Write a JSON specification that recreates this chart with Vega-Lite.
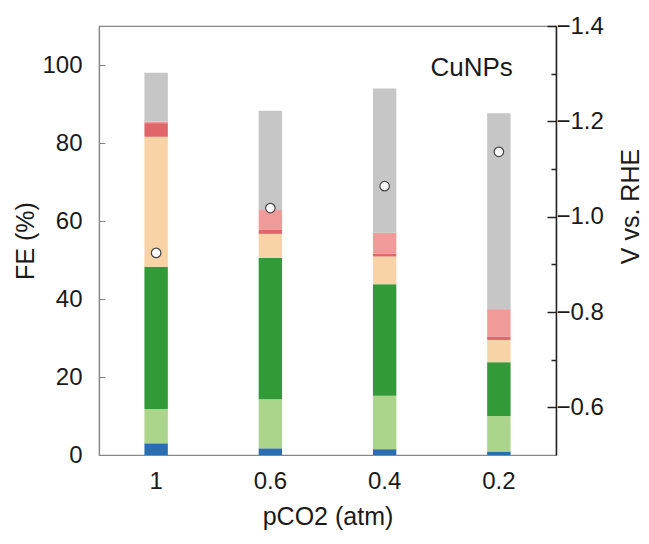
{
  "$schema": "https://vega.github.io/schema/vega-lite/v6.json",
  "width": 457,
  "height": 429,
  "autosize": {"type": "none"},
  "padding": {"left": 99, "top": 26, "right": 93, "bottom": 89},
  "background": "white",
  "config": {
    "font": "Liberation Sans",
    "view": {"stroke": "#888", "strokeWidth": 1.2},
    "axis": {"labelColor": "#1a1a1a", "titleColor": "#1a1a1a", "labelFont": "Liberation Sans", "titleFont": "Liberation Sans", "titleFontWeight": "normal", "grid": false}
  },
  "datasets": {
    "fe": [
      {"p": "1", "product": "CO", "k": 1, "fe": 3.0},
      {"p": "1", "product": "HCOOH", "k": 2, "fe": 8.8},
      {"p": "1", "product": "C2H4", "k": 3, "fe": 36.5},
      {"p": "1", "product": "C2H5OH", "k": 4, "fe": 33.3},
      {"p": "1", "product": "C3H7OH", "k": 5, "fe": 3.5},
      {"p": "1", "product": "CH4", "k": 6, "fe": 0.4},
      {"p": "1", "product": "H2", "k": 7, "fe": 12.5},
      {"p": "0.6", "product": "CO", "k": 1, "fe": 1.7},
      {"p": "0.6", "product": "HCOOH", "k": 2, "fe": 12.6},
      {"p": "0.6", "product": "C2H4", "k": 3, "fe": 36.3},
      {"p": "0.6", "product": "C2H5OH", "k": 4, "fe": 6.1},
      {"p": "0.6", "product": "C3H7OH", "k": 5, "fe": 1.0},
      {"p": "0.6", "product": "CH4", "k": 6, "fe": 5.1},
      {"p": "0.6", "product": "H2", "k": 7, "fe": 25.5},
      {"p": "0.4", "product": "CO", "k": 1, "fe": 1.5},
      {"p": "0.4", "product": "HCOOH", "k": 2, "fe": 13.7},
      {"p": "0.4", "product": "C2H4", "k": 3, "fe": 28.6},
      {"p": "0.4", "product": "C2H5OH", "k": 4, "fe": 7.1},
      {"p": "0.4", "product": "C3H7OH", "k": 5, "fe": 0.7},
      {"p": "0.4", "product": "CH4", "k": 6, "fe": 5.4},
      {"p": "0.4", "product": "H2", "k": 7, "fe": 37.0},
      {"p": "0.2", "product": "CO", "k": 1, "fe": 0.9},
      {"p": "0.2", "product": "HCOOH", "k": 2, "fe": 9.1},
      {"p": "0.2", "product": "C2H4", "k": 3, "fe": 13.8},
      {"p": "0.2", "product": "C2H5OH", "k": 4, "fe": 5.7},
      {"p": "0.2", "product": "C3H7OH", "k": 5, "fe": 0.9},
      {"p": "0.2", "product": "CH4", "k": 6, "fe": 7.0},
      {"p": "0.2", "product": "H2", "k": 7, "fe": 50.2}
    ],
    "volt": [
      {"p": "1", "v": -0.924},
      {"p": "0.6", "v": -1.018},
      {"p": "0.4", "v": -1.064},
      {"p": "0.2", "v": -1.136}
    ],
    "label": [
      {"p": "0.2", "y": 99.3, "text": "CuNPs"}
    ]
  },
  "encoding": {
    "x": {
      "field": "p",
      "type": "nominal",
      "sort": ["1", "0.6", "0.4", "0.2"],
      "scale": {"paddingInner": 0.795, "paddingOuter": 0.3975},
      "axis": {
        "title": "pCO2 (atm)",
        "titleFontSize": 25,
        "titlePadding": 11,
        "labelFontSize": 24,
        "labelAngle": 0,
        "labelPadding": 14,
        "ticks": false,
        "domainColor": "#888",
        "domainWidth": 1.2
      }
    }
  },
  "layer": [
    {
      "data": {"name": "fe"},
      "mark": {"type": "bar"},
      "encoding": {
        "y": {
          "field": "fe",
          "type": "quantitative",
          "stack": "zero",
          "scale": {"domain": [0, 110], "nice": false},
          "axis": {
            "title": "FE (%)",
            "titleFontSize": 25,
            "titlePadding": 3,
            "labelFontSize": 24,
            "labelPadding": 23,
            "values": [0, 20, 40, 60, 80, 100],
            "tickSize": -6,
            "tickColor": "#888",
            "domainColor": "#888",
            "domainWidth": 1.2
          }
        },
        "order": {"field": "k", "type": "quantitative", "sort": "ascending"},
        "color": {
          "field": "product",
          "type": "nominal",
          "legend": null,
          "scale": {
            "domain": ["CO", "HCOOH", "C2H4", "C2H5OH", "C3H7OH", "CH4", "H2"],
            "range": ["#2a6eb2", "#abd58b", "#339a39", "#f8d3a5", "#e0666a", "#f19a9a", "#c6c6c6"]
          }
        }
      }
    },
    {
      "data": {"name": "volt"},
      "mark": {"type": "point", "filled": true, "fill": "white", "stroke": "#444", "strokeWidth": 1.2, "size": 90, "opacity": 1},
      "encoding": {
        "y": {
          "field": "v",
          "type": "quantitative",
          "scale": {"domain": [-1.4, -0.5], "reverse": true, "nice": false, "zero": false},
          "axis": {
            "orient": "right",
            "title": "V vs. RHE",
            "titleFontSize": 25,
            "titleAngle": 270,
            "titleX": 74,
            "titleY": 180,
            "titleAlign": "center",
            "titleBaseline": "middle",
            "labelFontSize": 24,
            "labelPadding": 9,
            "values": [-1.4, -1.3, -1.2, -1.1, -1.0, -0.9, -0.8, -0.7, -0.6],
            "labelExpr": "abs(round(datum.value*10)) % 2 == 0 ? format(datum.value, '.1f') : ''",
            "tickSize": {"condition": {"test": "abs(round(datum.value*10)) % 2 == 0", "value": -9}, "value": -5},
            "tickColor": "#222",
            "tickWidth": 1.5,
            "domainColor": "#222",
            "domainWidth": 1.5
          }
        }
      }
    },
    {
      "data": {"name": "label"},
      "mark": {"type": "text", "fontSize": 26, "align": "right", "baseline": "middle", "dx": 14, "color": "#1a1a1a", "font": "Liberation Sans"},
      "encoding": {
        "y": {"field": "y", "type": "quantitative", "scale": {"domain": [0, 110], "nice": false}, "axis": null},
        "text": {"field": "text"}
      }
    }
  ],
  "resolve": {"scale": {"y": "independent"}}
}
